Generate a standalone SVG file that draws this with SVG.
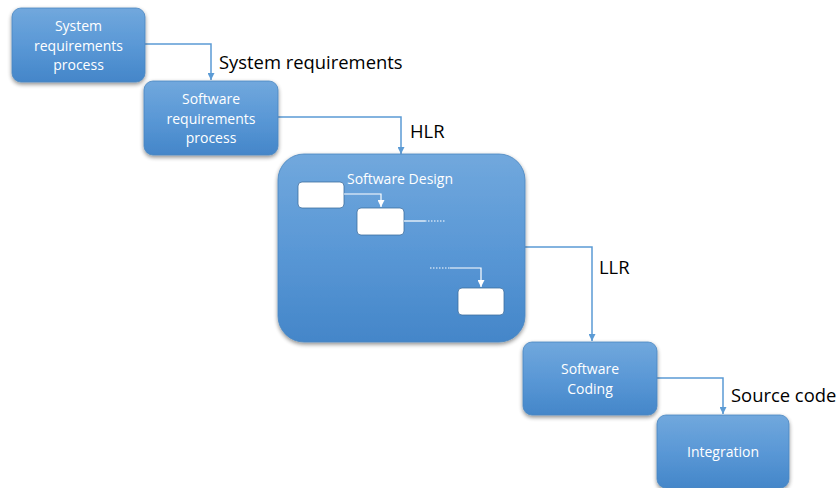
<svg xmlns="http://www.w3.org/2000/svg" width="837" height="488" viewBox="0 0 837 488">
<defs>
<linearGradient id="g" x1="0" y1="0" x2="0" y2="1">
<stop offset="0" stop-color="#71a8dd"/>
<stop offset="0.5" stop-color="#5a98d6"/>
<stop offset="1" stop-color="#4486c9"/>
</linearGradient>
<filter id="sh" x="-10%" y="-10%" width="125%" height="130%">
<feGaussianBlur in="SourceAlpha" stdDeviation="2"/>
<feOffset dx="0" dy="2" result="b"/>
<feComponentTransfer><feFuncA type="linear" slope="0.45"/></feComponentTransfer>
<feMerge><feMergeNode/><feMergeNode in="SourceGraphic"/></feMerge>
</filter>
<marker id="ah" viewBox="0 0 10 10" refX="10" refY="5" markerWidth="7" markerHeight="7" markerUnits="userSpaceOnUse" orient="auto">
<path d="M0,0 L10,5 L0,10 z" fill="#5b9bd5"/>
</marker>
<marker id="aw" viewBox="0 0 10 10" refX="10" refY="5" markerWidth="7" markerHeight="7" markerUnits="userSpaceOnUse" orient="auto">
<path d="M0,0 L10,5 L0,10 z" fill="#ffffff"/>
</marker>
<style>
.n{fill:url(#g);stroke:#4a86c0;stroke-width:0.8;filter:url(#sh)}
.t{font-family:"Open Sans","Liberation Sans",sans-serif;font-size:14px;fill:#ffffff;text-anchor:middle}
.l{font-family:"Open Sans","Liberation Sans",sans-serif;font-size:18.4px;fill:#000000}
.c{fill:none;stroke:#5b9bd5;stroke-width:1.5}
.w{fill:#ffffff;stroke:#3e6f9f;stroke-width:0.8}
.wl{fill:none;stroke:#ffffff;stroke-width:1.2}
.wd{fill:none;stroke:#ffffff;stroke-width:1.2;stroke-dasharray:1.5,1.5}
</style>
</defs>
<g id="connectors">
<path class="c" d="M145,44 H211 V80" marker-end="url(#ah)"/>
<path class="c" d="M278,117 H401 V154" marker-end="url(#ah)"/>
<path class="c" d="M525,247 H592 V341" marker-end="url(#ah)"/>
<path class="c" d="M657,378 H723 V414" marker-end="url(#ah)"/>
</g>
<g id="labels">
<text class="l" x="219" y="69">System requirements</text>
<text class="l" x="410" y="138">HLR</text>
<text class="l" x="599" y="274">LLR</text>
<text class="l" x="731" y="402">Source code</text>
</g>
<g id="system-requirements-process">
<rect class="n" x="12" y="8" width="133" height="74" rx="9"/>
<text class="t" x="78.5" y="31">System</text>
<text class="t" x="78.5" y="51">requirements</text>
<text class="t" x="78.5" y="70">process</text>
</g>
<g id="software-requirements-process">
<rect class="n" x="144" y="81" width="134" height="74" rx="9"/>
<text class="t" x="211" y="104">Software</text>
<text class="t" x="211" y="124">requirements</text>
<text class="t" x="211" y="143">process</text>
</g>
<g id="software-design">
<rect class="n" x="278" y="154" width="247" height="188" rx="26"/>
<text class="t" x="400" y="184">Software Design</text>
<rect class="w" x="298" y="182" width="46" height="26" rx="4"/>
<rect class="w" x="357" y="208" width="47" height="27" rx="4"/>
<rect class="w" x="458" y="288" width="46" height="27" rx="4"/>
<path class="wl" d="M344,194 H381 V207" marker-end="url(#aw)"/>
<path class="wl" d="M404,221 H425"/>
<path class="wd" d="M425,221 H445"/>
<path class="wd" d="M430,268 H450"/>
<path class="wl" d="M450,268 H481 V287" marker-end="url(#aw)"/>
</g>
<g id="software-coding">
<rect class="n" x="523" y="342" width="134" height="73" rx="9"/>
<text class="t" x="590" y="374">Software</text>
<text class="t" x="590" y="394">Coding</text>
</g>
<g id="integration">
<rect class="n" x="657" y="415" width="132" height="73" rx="9"/>
<text class="t" x="723" y="457">Integration</text>
</g>
</svg>
